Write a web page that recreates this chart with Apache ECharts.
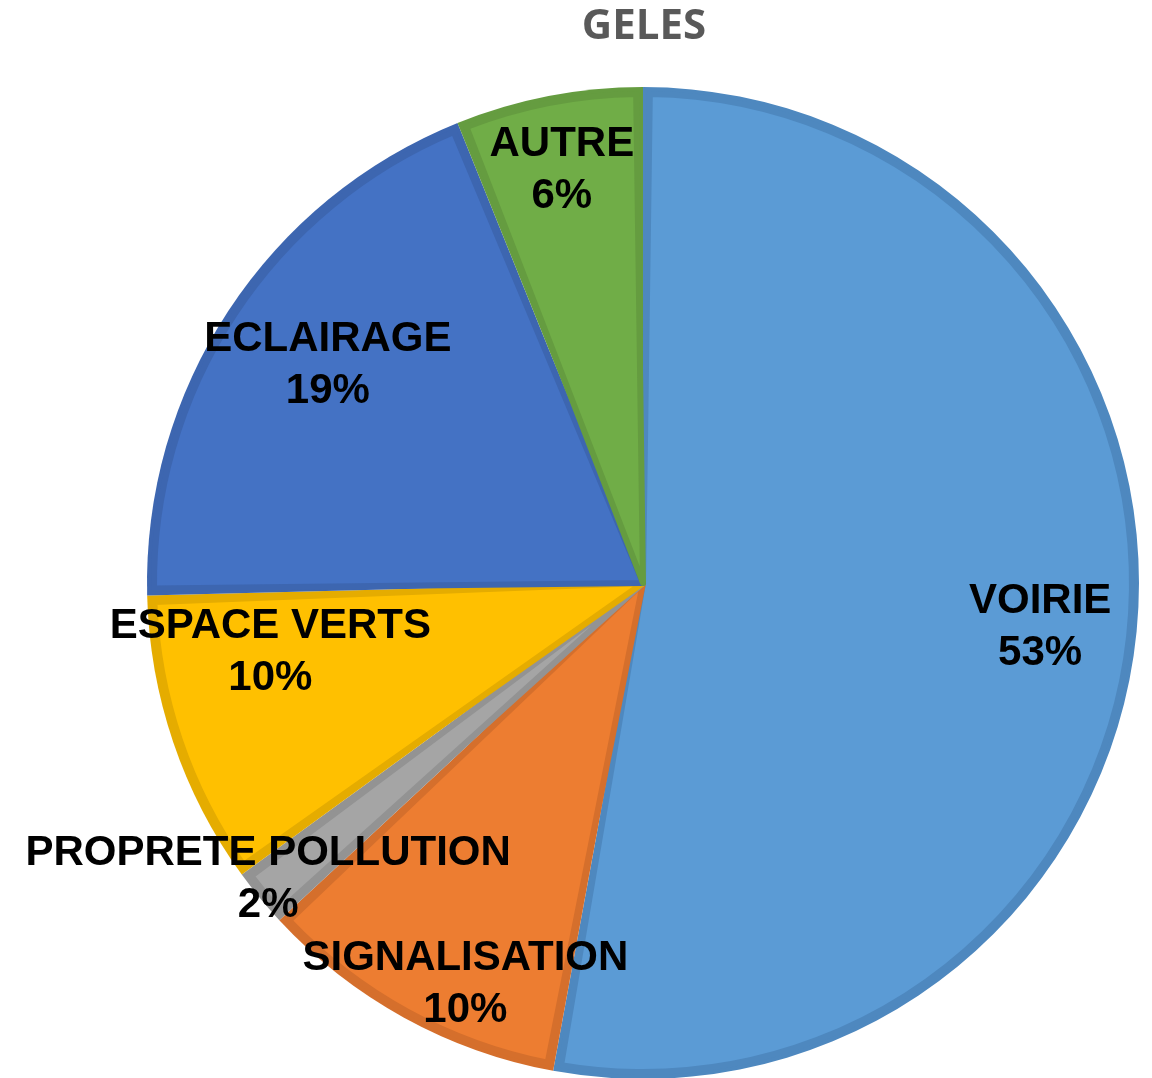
<!DOCTYPE html>
<html>
<head>
<meta charset="utf-8">
<script src="https://cdn.jsdelivr.net/npm/echarts@6/dist/echarts.min.js"></script>
<style>
html,body{margin:0;padding:0;background:#fff;}
#chart{width:1152px;height:1078px;}
</style>
</head>
<body>
<div id="chart"></div>
<script>
// ---- data ----
const titleText = 'GELES';
const categories = ['VOIRIE', 'SIGNALISATION', 'PROPRETE POLLUTION', 'ESPACE VERTS', 'ECLAIRAGE', 'AUTRE'];
const values = [52.9, 10.2, 1.9, 9.6, 19.3, 6.1];

// ---- styles ----
const fillColors = ['#5B9BD5', '#ED7D31', '#A5A5A5', '#FFC000', '#4472C4', '#70AD47'];
const borderColors = ['#4E88BF', '#D56F2C', '#939393', '#E5AC00', '#3D66B0', '#659C40'];
const labelOffsets = [[-1, 8], [15, 51], [-66, 43], [6, -59], [19, 2], [-5, -20]];

const CX = 643, CY = 583, R = 496;

function makeData(colors, extra) {
  return categories.map((name, i) => Object.assign({
    name: name,
    value: values[i],
    itemStyle: { color: colors[i] }
  }, extra ? extra(i) : {}));
}

const chart = echarts.init(document.getElementById('chart'), null, { renderer: 'canvas' });
chart.setOption({
  animation: false,
  backgroundColor: '#ffffff',
  graphic: [{
    type: 'text',
    x: 644,
    y: 27,
    silent: true,
    style: {
      text: titleText,
      fill: '#595959',
      font: 'bold 42px "Open Sans"',
      align: 'center',
      verticalAlign: 'middle'
    }
  }],
  series: [
    {
      type: 'pie',
      silent: true,
      center: [CX, CY],
      radius: [0, R],
      startAngle: 90,
      clockwise: true,
      label: { show: false },
      labelLine: { show: false },
      itemStyle: { borderWidth: 0 },
      data: makeData(borderColors)
    },
    {
      type: 'pie',
      silent: true,
      center: [CX, CY],
      radius: [0, R - 7],
      startAngle: 90,
      clockwise: true,
      padAngle: 1.6,
      label: { show: false },
      labelLine: { show: false },
      data: makeData(fillColors, i => ({
        itemStyle: { color: fillColors[i], borderColor: borderColors[i], borderWidth: 6 }
      }))
    },
    {
      type: 'pie',
      silent: true,
      center: [CX, CY],
      radius: [R * 0.6, R],
      startAngle: 90,
      clockwise: true,
      avoidLabelOverlap: false,
      itemStyle: { color: 'rgba(0,0,0,0)' },
      labelLine: { show: false },
      labelLayout: { hideOverlap: false },
      label: {
        show: true,
        position: 'inside',
        fontFamily: 'Liberation Sans',
        fontWeight: 'bold',
        fontSize: 42,
        lineHeight: 52,
        color: '#000000',
        formatter: p => p.name + '\n' + Math.round(p.percent) + '%'
      },
      data: categories.map((name, i) => ({
        name: name,
        value: values[i],
        itemStyle: { color: 'rgba(0,0,0,0)' },
        label: { offset: labelOffsets[i] }
      }))
    }
  ]
});
</script>
</body>
</html>
